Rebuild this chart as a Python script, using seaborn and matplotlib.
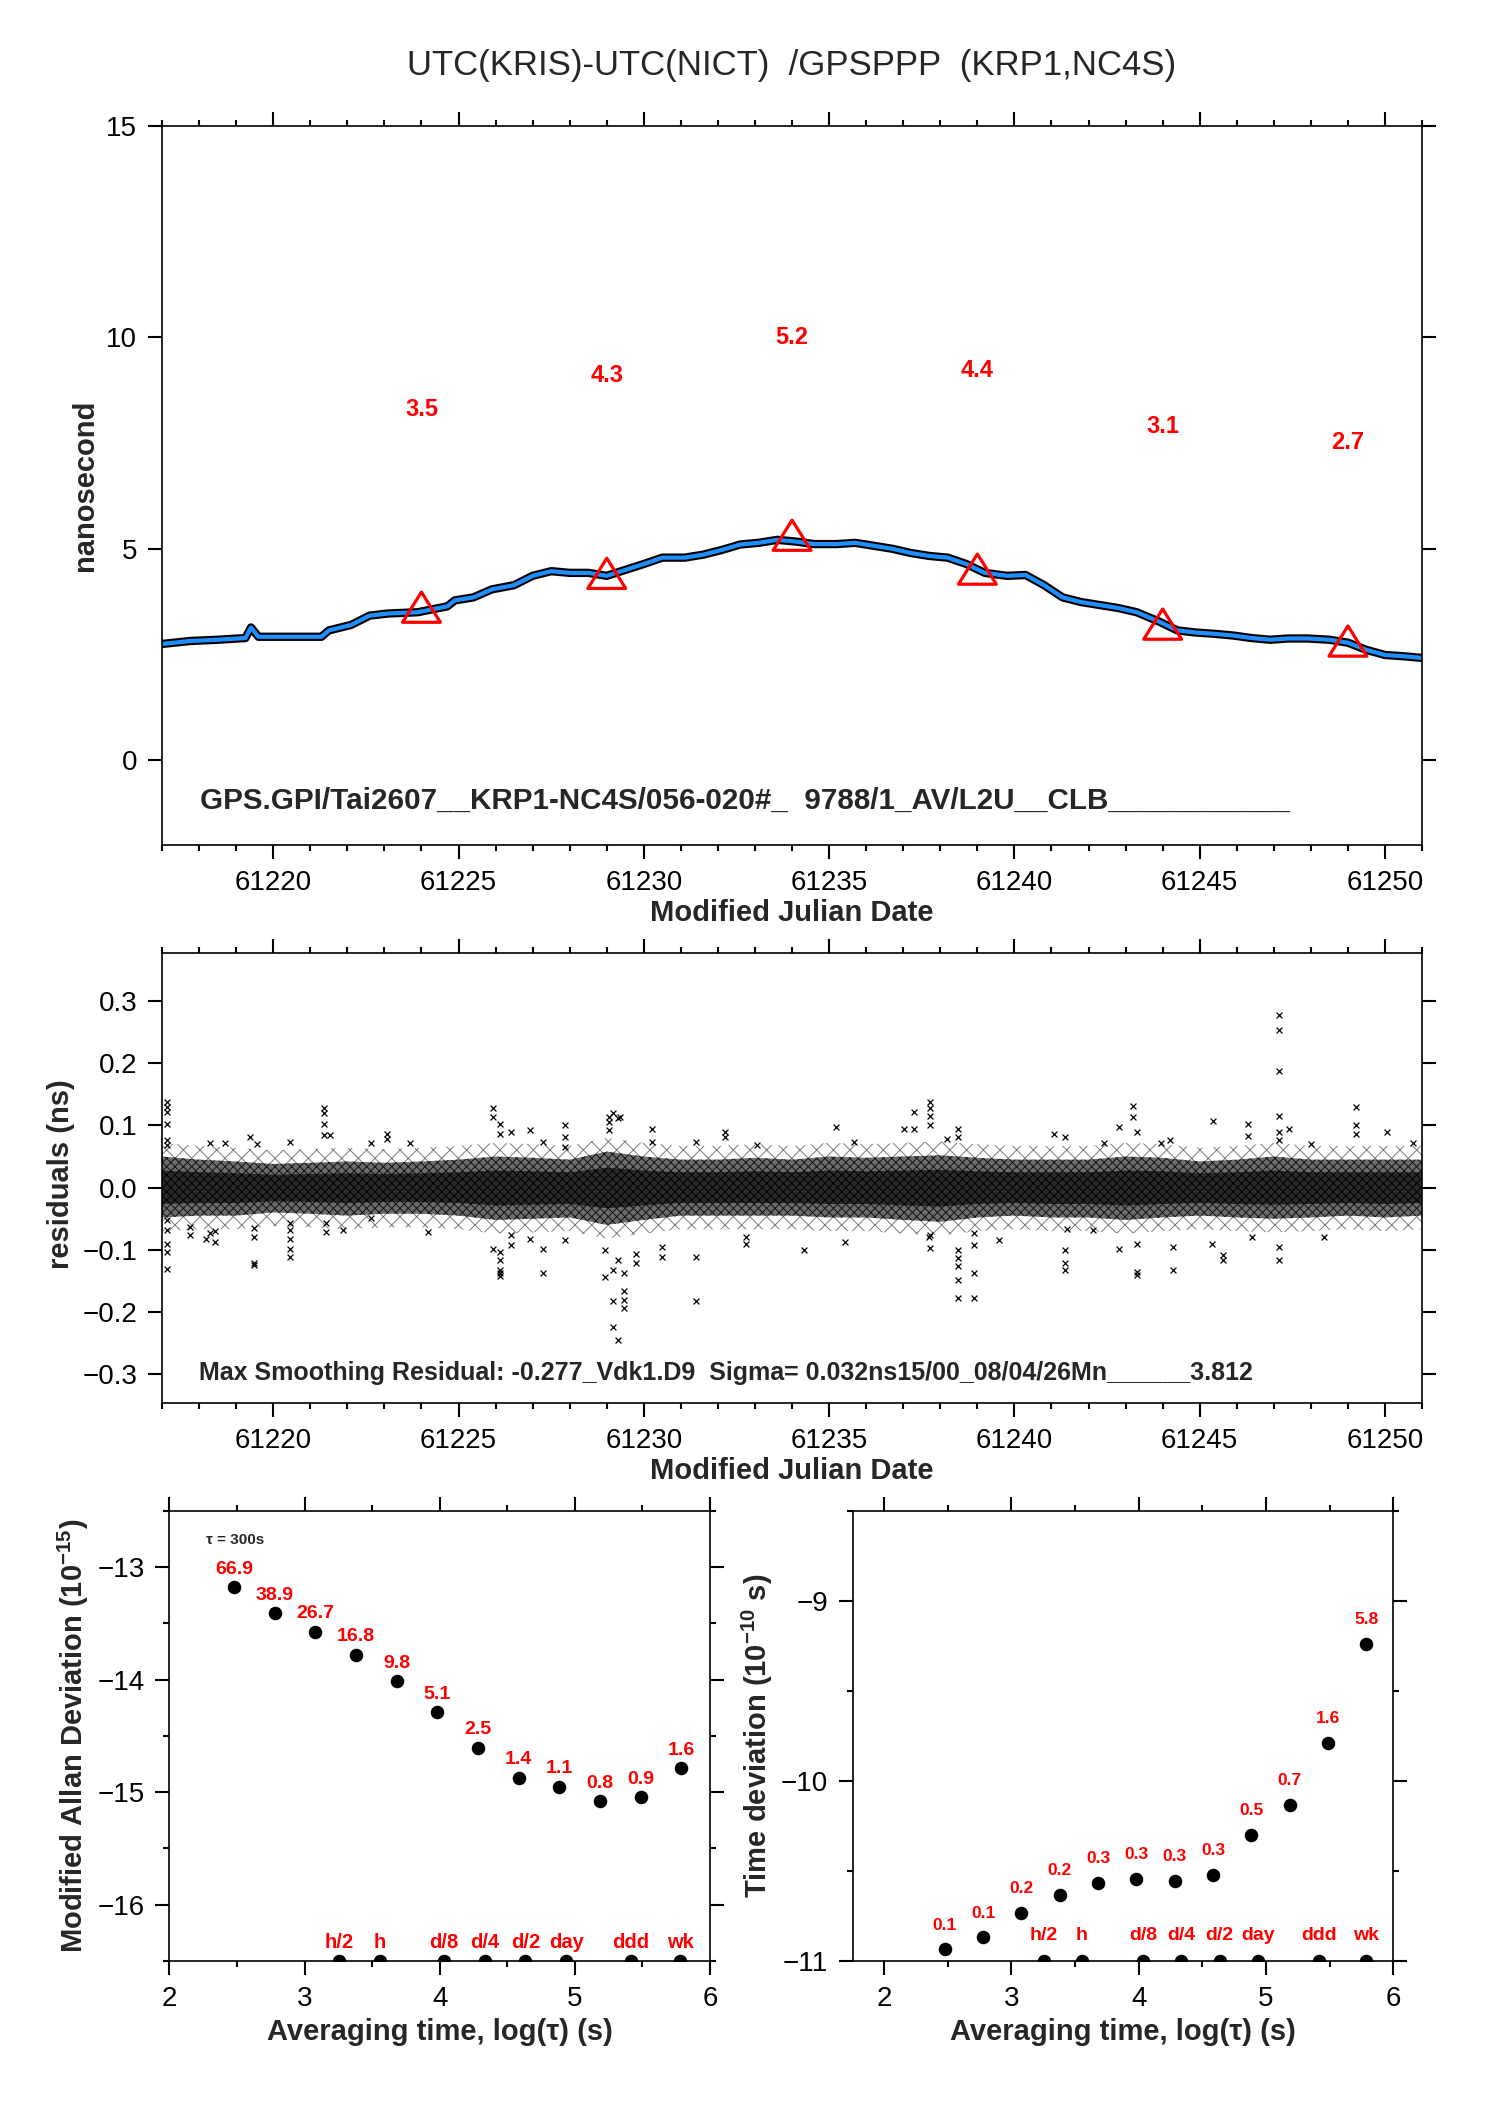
import numpy as np
import matplotlib
matplotlib.use("Agg")
import matplotlib.pyplot as plt
from matplotlib.ticker import MultipleLocator, FuncFormatter
from matplotlib.path import Path
import seaborn as sns

# ---------------- data ----------------
title_text = "UTC(KRIS)-UTC(NICT)  /GPSPPP  (KRP1,NC4S)"
info_top = "GPS.GPI/Tai2607__KRP1-NC4S/056-020#_  9788/1_AV/L2U__CLB___________"
info_mid = "Max Smoothing Residual: -0.277_Vdk1.D9  Sigma= 0.032ns15/00_08/04/26Mn______3.812"

curve_mjd = [61217.0, 61217.75, 61218.5, 61219.25, 61219.4, 61219.6, 61220.3, 61221.3, 61221.5,
             61222.1, 61222.6, 61223.1, 61223.9, 61224.7, 61224.9, 61225.4, 61225.9, 61226.5,
             61227.0, 61227.5, 61228.0, 61228.5, 61229.0, 61229.5, 61230.0, 61230.5, 61231.1,
             61231.6, 61232.1, 61232.6, 61233.1, 61233.6, 61234.1, 61234.6, 61235.2, 61235.7,
             61236.2, 61236.7, 61237.2, 61237.7, 61238.2, 61238.7, 61239.2, 61239.8, 61240.3,
             61240.8, 61241.3, 61241.8, 61242.3, 61242.8, 61243.3, 61243.9, 61244.4, 61244.9,
             61245.4, 61245.9, 61246.4, 61246.9, 61247.4, 61247.9, 61248.5, 61249.0, 61249.5,
             61250.0, 61250.5, 61251.0]
curve_ns = [2.75, 2.82, 2.85, 2.89, 3.14, 2.92, 2.92, 2.92, 3.07,
            3.20, 3.42, 3.47, 3.50, 3.64, 3.78, 3.85, 4.04, 4.14,
            4.36, 4.47, 4.43, 4.43, 4.36, 4.50, 4.64, 4.79, 4.79,
            4.86, 4.97, 5.10, 5.14, 5.21, 5.17, 5.11, 5.11, 5.14,
            5.07, 5.00, 4.90, 4.83, 4.79, 4.64, 4.43, 4.36, 4.38,
            4.14, 3.85, 3.74, 3.67, 3.60, 3.50, 3.28, 3.07, 3.02,
            2.99, 2.95, 2.89, 2.85, 2.88, 2.88, 2.85, 2.78, 2.61,
            2.49, 2.46, 2.42]

tri_mjd = [61224, 61229, 61234, 61239, 61244, 61249]
tri_ns = [3.5, 4.3, 5.2, 4.4, 3.1, 2.7]
tri_labels = ["3.5", "4.3", "5.2", "4.4", "3.1", "2.7"]

band_mjd = list(range(61217, 61252))
band_hi = [0.050, 0.045, 0.042, 0.038, 0.040, 0.042, 0.040, 0.042, 0.045, 0.050, 0.048, 0.045,
           0.058, 0.050, 0.045, 0.045, 0.048, 0.045, 0.050, 0.048, 0.050, 0.052, 0.048, 0.045,
           0.045, 0.045, 0.050, 0.048, 0.042, 0.045, 0.050, 0.045, 0.045, 0.045, 0.045]
band_lo = [-0.048, -0.045, -0.045, -0.040, -0.042, -0.045, -0.042, -0.042, -0.045, -0.052, -0.050, -0.048,
           -0.060, -0.052, -0.045, -0.045, -0.045, -0.045, -0.048, -0.048, -0.052, -0.055, -0.048, -0.045,
           -0.048, -0.048, -0.052, -0.048, -0.045, -0.048, -0.050, -0.048, -0.045, -0.048, -0.045]

res_mjd = [61217.14, 61217.14, 61217.14, 61217.14, 61217.14, 61217.14, 61217.14, 61217.14, 61217.14, 61217.14, 61217.14,
           61217.75, 61217.75, 61218.18, 61218.29, 61218.29, 61218.42, 61218.42, 61218.71, 61219.37,
           61219.49, 61219.49, 61219.49, 61219.49, 61219.55,
           61220.46, 61220.46, 61220.46, 61220.46, 61220.46, 61220.46,
           61221.36, 61221.36, 61221.36, 61221.36, 61221.52, 61221.42, 61221.42, 61221.88,
           61222.63, 61222.63, 61223.08, 61223.08, 61223.70, 61224.17,
           61225.94, 61225.94, 61225.94,
           61226.12, 61226.12, 61226.12, 61226.12, 61226.12, 61226.12, 61226.12,
           61226.42, 61226.42, 61226.42, 61226.93, 61226.93,
           61227.27, 61227.27, 61227.27, 61227.87, 61227.87, 61227.87, 61227.87,
           61228.95, 61228.95, 61229.07, 61229.07, 61229.07,
           61229.17, 61229.17, 61229.17, 61229.17, 61229.31, 61229.31, 61229.31, 61229.37,
           61229.46, 61229.46, 61229.46, 61229.46, 61229.80, 61229.80,
           61230.22, 61230.22, 61230.49, 61230.49, 61231.42, 61231.42, 61231.42,
           61232.20, 61232.20, 61232.75, 61232.75, 61233.05,
           61234.31, 61235.19, 61235.67, 61235.43, 61237.02, 61237.30, 61237.30,
           61237.71, 61237.71, 61237.71, 61237.71, 61237.71, 61237.71, 61237.69,
           61238.17, 61238.49, 61238.49, 61238.49, 61238.49, 61238.49, 61238.49, 61238.49,
           61238.90, 61238.90, 61238.90, 61238.90, 61239.59, 61241.08,
           61241.36, 61241.36, 61241.36, 61241.36, 61241.41, 61242.12, 61242.42, 61242.83, 61242.83,
           61243.19, 61243.19, 61243.31, 61243.31, 61243.31, 61243.31, 61243.95, 61244.19,
           61244.28, 61244.28, 61245.36, 61245.34, 61245.64, 61245.64, 61246.30, 61246.30, 61246.42,
           61247.14, 61247.14, 61247.14, 61247.14, 61247.14, 61247.14, 61247.14, 61247.14,
           61247.41, 61247.99, 61248.35, 61249.22, 61249.22, 61249.22, 61250.04, 61250.76]
res_ns = [0.138, 0.130, 0.122, 0.102, 0.076, 0.069, -0.052, -0.068, -0.090, -0.104, -0.131,
          -0.063, -0.077, -0.082, 0.071, -0.073, -0.088, -0.070, 0.071, 0.082,
          -0.065, -0.079, -0.122, -0.124, 0.070,
          0.074, -0.057, -0.068, -0.082, -0.098, -0.111,
          0.128, 0.120, 0.102, 0.085, 0.085, -0.057, -0.071, -0.068,
          0.071, -0.049, 0.087, 0.078, 0.072, -0.071,
          0.128, 0.114, -0.098,
          0.103, 0.087, -0.103, -0.117, -0.132, -0.138, -0.142,
          0.090, -0.092, -0.076, 0.093, -0.082,
          -0.138, -0.098, 0.074, 0.101, 0.082, 0.066, -0.084,
          -0.100, -0.143, 0.114, 0.106, 0.093,
          0.120, -0.183, -0.224, -0.132, -0.245, -0.116, 0.112, 0.114,
          -0.167, -0.181, -0.194, -0.137, -0.106, -0.122,
          0.095, 0.074, -0.095, -0.111, 0.074, -0.111, -0.183,
          0.090, 0.082, -0.079, -0.090, 0.069,
          -0.100, 0.097, 0.074, -0.088, 0.095, 0.121, 0.094,
          0.138, 0.128, 0.115, 0.101, -0.076, -0.097, -0.079,
          0.079, -0.100, -0.114, -0.126, -0.149, -0.178, 0.095, 0.082,
          -0.092, -0.137, -0.178, -0.073, -0.084, 0.087,
          0.082, -0.100, -0.122, -0.132, -0.067, -0.068, 0.072, 0.097, -0.099,
          0.131, 0.114, 0.090, -0.135, -0.140, -0.090, 0.072, 0.077,
          -0.095, -0.132, 0.107, -0.090, -0.108, -0.116, 0.102, 0.083, -0.079,
          0.278, 0.253, 0.188, 0.115, 0.090, 0.077, -0.095, -0.117,
          0.095, 0.070, -0.079, 0.129, 0.101, 0.086, 0.090, 0.071]

tau_log = [2.477, 2.778, 3.079, 3.380, 3.681, 3.982, 4.283, 4.584, 4.885, 5.186, 5.487, 5.788]
mdev_log = [-13.177, -13.411, -13.574, -13.777, -14.014, -14.291, -14.603, -14.869, -14.950, -15.082, -15.043, -14.787]
mdev_labels = ["66.9", "38.9", "26.7", "16.8", "9.8", "5.1", "2.5", "1.4", "1.1", "0.8", "0.9", "1.6"]
tdev_log = [-10.936, -10.869, -10.732, -10.633, -10.566, -10.544, -10.553, -10.520, -10.299, -10.131, -9.788, -9.237]
tdev_labels = ["0.1", "0.1", "0.2", "0.2", "0.3", "0.3", "0.3", "0.3", "0.5", "0.7", "1.6", "5.8"]
mark_log = [3.255, 3.556, 4.033, 4.334, 4.635, 4.936, 5.414, 5.782]
mark_labels = ["h/2", "h", "d/8", "d/4", "d/2", "day", "ddd", "wk"]

# ---------------- style ----------------
sns.set_theme(style="ticks")
plt.rcParams["font.family"] = ["Liberation Sans", "DejaVu Sans"]
plt.rcParams["mathtext.fontset"] = "custom"
plt.rcParams["mathtext.rm"] = "Liberation Sans"
plt.rcParams["mathtext.bf"] = "Liberation Sans:bold"
plt.rcParams["mathtext.it"] = "Liberation Sans:italic"
plt.rcParams["axes.unicode_minus"] = True
plt.rcParams["hatch.linewidth"] = 0.7

RED = "#ff0000"
BLUE = "#1e8fff"
TICK_FS = 20
LAB_FS = 21


def minus_fmt(fmt):
    def f(v, pos):
        s = fmt.format(v)
        if s.startswith("-") and float(s) == 0:
            s = s[1:]
        return s.replace("-", "\u2212")
    return FuncFormatter(f)


def style(ax):
    for s in ax.spines.values():
        s.set_linewidth(1.2)
        s.set_color("black")
        s.set_visible(True)
    ax.tick_params(which="both", direction="out", top=True, right=True, bottom=True, left=True,
                   labeltop=False, labelright=False, color="black", width=1.5)
    ax.tick_params(which="major", length=10, labelsize=TICK_FS, pad=8, labelcolor="black")
    ax.tick_params(which="minor", length=4.5)
    ax.grid(False)
    ax.set_facecolor("white")


fig = plt.figure(figsize=(14.88, 21.05), dpi=100)
fig.patch.set_facecolor("white")
ax1 = fig.add_axes([0.1089, 0.59857, 0.8468, 0.34181])
ax2 = fig.add_axes([0.1089, 0.33335, 0.8468, 0.21378])
ax3 = fig.add_axes([0.1139, 0.06841, 0.3632, 0.21378])
ax4 = fig.add_axes([0.5735, 0.06841, 0.3629, 0.21378])

fig.text(792 / 1488, 1 - 66 / 2105, title_text, ha="center", va="center", fontsize=25)

# ---------------- top panel ----------------
sns.lineplot(x=curve_mjd, y=curve_ns, ax=ax1, color="black", lw=6, estimator=None, sort=False)
sns.lineplot(x=curve_mjd, y=curve_ns, ax=ax1, color=BLUE, lw=3.0, estimator=None, sort=False)
# open triangle whose centroid sits on the data point
tri = Path([(0, 1.0), (-0.94, -0.5), (0.94, -0.5), (0, 1.0)],
           [Path.MOVETO, Path.LINETO, Path.LINETO, Path.CLOSEPOLY])
sns.scatterplot(x=tri_mjd, y=tri_ns, ax=ax1, marker=tri, s=29 ** 2, facecolor="none",
                edgecolor=RED, linewidth=2.3, zorder=5)
for x, y, lab in zip(tri_mjd, tri_ns, tri_labels):
    ax1.text(x, y + 4.8, lab, color=RED, fontsize=17, fontweight="bold", ha="center", va="center")
ax1.text(0.0298, 0.0618, info_top, transform=ax1.transAxes, fontsize=21.3, fontweight="bold",
         ha="left", va="center")
ax1.set_xlim(61217, 61251)
ax1.set_ylim(-2, 15)
style(ax1)
ax1.xaxis.set_major_locator(MultipleLocator(5))
ax1.xaxis.set_minor_locator(MultipleLocator(1))
ax1.xaxis.set_major_formatter(FuncFormatter(lambda v, p: f"{int(round(v))}"))
ax1.yaxis.set_major_locator(MultipleLocator(5))
ax1.yaxis.set_major_formatter(FuncFormatter(lambda v, p: f"{int(round(v))}"))
ax1.set_xlabel("Modified Julian Date", fontsize=LAB_FS, fontweight="bold")
ax1.set_ylabel("nanosecond", fontsize=LAB_FS, fontweight="bold")
ax1.xaxis.label.set_va("center")
ax1.yaxis.label.set_va("center")
ax1.xaxis.set_label_coords(0.5, -0.0941)
ax1.yaxis.set_label_coords(-0.0615, 0.5)

# ---------------- residual panel ----------------
fringe = 0.022
ax2.fill_between(band_mjd, np.array(band_lo) - fringe, np.array(band_hi) + fringe,
                 facecolor="none", lw=0, hatch="xx", edgecolor="#7a7a7a")
ax2.fill_between(band_mjd, band_lo, band_hi, facecolor="#6c6c6c", lw=0, hatch="xxxx",
                 edgecolor="#111111")
ax2.fill_between(band_mjd, np.array(band_lo) * 0.55, np.array(band_hi) * 0.55,
                 facecolor="#2a2a2a", lw=0, hatch="xxxx", edgecolor="#000000")
sns.scatterplot(x=res_mjd, y=res_ns, ax=ax2, marker="x", s=18, color="black", linewidth=0.9)
ax2.text(0.0294, 0.0679, info_mid, transform=ax2.transAxes, fontsize=18.0, fontweight="bold",
         ha="left", va="center")
ax2.set_xlim(61217, 61251)
ax2.set_ylim(-0.347, 0.377)
style(ax2)
ax2.xaxis.set_major_locator(MultipleLocator(5))
ax2.xaxis.set_minor_locator(MultipleLocator(1))
ax2.xaxis.set_major_formatter(FuncFormatter(lambda v, p: f"{int(round(v))}"))
ax2.yaxis.set_major_locator(MultipleLocator(0.1))
ax2.yaxis.set_major_formatter(minus_fmt("{:.1f}"))
ax2.set_xlabel("Modified Julian Date", fontsize=LAB_FS, fontweight="bold")
ax2.set_ylabel("residuals (ns)", fontsize=LAB_FS, fontweight="bold")
ax2.xaxis.label.set_va("center")
ax2.yaxis.label.set_va("center")
ax2.xaxis.set_label_coords(0.5, -0.1504)
ax2.yaxis.set_label_coords(-0.080, 0.51)

# ---------------- ADEV panel ----------------
adev_ylim = (-16.5, -12.5)
sns.scatterplot(x=tau_log, y=mdev_log, ax=ax3, marker="o", s=95, color="black", edgecolor="black", linewidth=0)
for x, y, lab in zip(tau_log, mdev_log, mdev_labels):
    ax3.annotate(lab, (x, y), xytext=(0, 13), textcoords="offset points", ha="center", va="center",
                 color=RED, fontsize=14, fontweight="bold")
sns.scatterplot(x=mark_log, y=[adev_ylim[0]] * len(mark_log), ax=ax3, marker="o", s=95,
                color="black", edgecolor="black", linewidth=0)
for x, lab in zip(mark_log, mark_labels):
    ax3.annotate(lab, (x, adev_ylim[0]), xytext=(0, 13), textcoords="offset points", ha="center",
                 va="center", color=RED, fontsize=14.5, fontweight="bold")
ax3.text(0.121, 0.9356, "\u03c4 = 300s", transform=ax3.transAxes, fontsize=11, fontweight="bold",
         ha="center", va="center")
ax3.set_xlim(2, 6)
ax3.set_ylim(*adev_ylim)
style(ax3)
ax3.xaxis.set_major_locator(MultipleLocator(1))
ax3.xaxis.set_minor_locator(MultipleLocator(0.5))
ax3.yaxis.set_major_locator(MultipleLocator(1))
ax3.yaxis.set_minor_locator(MultipleLocator(0.5))
ax3.xaxis.set_major_formatter(minus_fmt("{:.0f}"))
ax3.yaxis.set_major_formatter(minus_fmt("{:.0f}"))
ax3.set_xlabel("Averaging time, log(\u03c4) (s)", fontsize=LAB_FS, fontweight="bold")
ax3.set_ylabel(r"Modified Allan Deviation (10$^{\mathbf{-15}}$)", fontsize=LAB_FS, fontweight="bold")
ax3.xaxis.label.set_va("center")
ax3.yaxis.label.set_va("center")
ax3.xaxis.set_label_coords(0.5, -0.158)
ax3.yaxis.set_label_coords(-0.177, 0.5)

# ---------------- TDEV panel ----------------
tdev_ylim = (-11, -8.5)
sns.scatterplot(x=tau_log, y=tdev_log, ax=ax4, marker="o", s=95, color="black", edgecolor="black", linewidth=0)
for x, y, lab in zip(tau_log, tdev_log, tdev_labels):
    ax4.annotate(lab, (x, y), xytext=(0, 17.5), textcoords="offset points", ha="center", va="center",
                 color=RED, fontsize=12.5, fontweight="bold")
sns.scatterplot(x=mark_log, y=[tdev_ylim[0]] * len(mark_log), ax=ax4, marker="o", s=95,
                color="black", edgecolor="black", linewidth=0)
for x, lab in zip(mark_log, mark_labels):
    ax4.annotate(lab, (x, tdev_ylim[0]), xytext=(0, 18), textcoords="offset points", ha="center",
                 va="center", color=RED, fontsize=14, fontweight="bold")
ax4.set_xlim(1.76, 6)
ax4.set_ylim(*tdev_ylim)
style(ax4)
ax4.xaxis.set_major_locator(MultipleLocator(1))
ax4.xaxis.set_minor_locator(MultipleLocator(0.5))
ax4.yaxis.set_major_locator(MultipleLocator(1))
ax4.yaxis.set_minor_locator(MultipleLocator(0.5))
ax4.xaxis.set_major_formatter(minus_fmt("{:.0f}"))
ax4.yaxis.set_major_formatter(minus_fmt("{:.0f}"))
ax4.set_xlabel("Averaging time, log(\u03c4) (s)", fontsize=LAB_FS, fontweight="bold")
ax4.set_ylabel(r"Time deviation (10$^{\mathbf{-10}}$ s)", fontsize=LAB_FS, fontweight="bold")
ax4.xaxis.label.set_va("center")
ax4.yaxis.label.set_va("center")
ax4.xaxis.set_label_coords(0.5, -0.158)
ax4.yaxis.set_label_coords(-0.177, 0.5)

for ax in (ax1, ax2, ax3, ax4):
    leg = ax.get_legend()
    if leg is not None:
        leg.remove()

fig.savefig("out.png", dpi=100, facecolor="white")
